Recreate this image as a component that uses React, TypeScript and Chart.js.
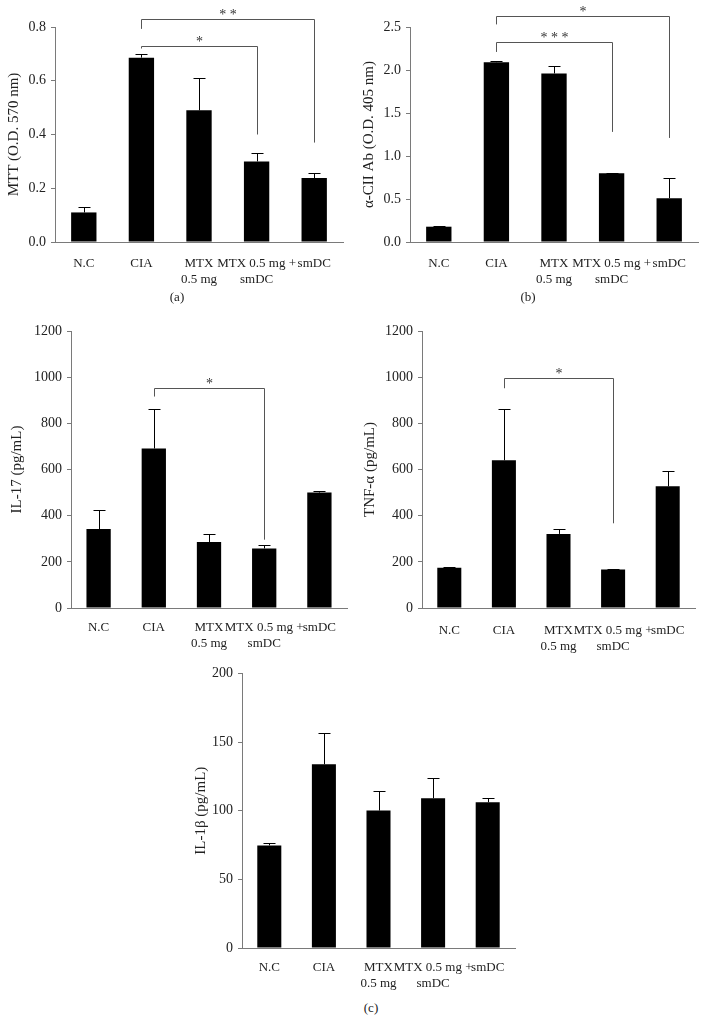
import React, { useEffect, useRef } from "react";
import { Chart, registerables } from "chart.js";
Chart.register(...registerables);

const categories: string[][] = [["N.C"], ["CIA"], ["MTX", "0.5 mg"], ["MTX 0.5 mg +", "smDC"], ["smDC"]];

const mttMeans = [0.11, 0.686, 0.49, 0.3, 0.238];
const mttErrors = [0.02, 0.015, 0.12, 0.03, 0.02];

const abMeans = [0.178, 2.09, 1.96, 0.8, 0.51];
const abErrors = [0.012, 0.01, 0.09, 0.008, 0.23];

const il17Means = [342, 691, 286, 258, 500];
const il17Errors = [83, 170, 36, 13, 5];

const tnfMeans = [174, 640, 321, 167, 527];
const tnfErrors = [2, 224, 20, 4, 65];

const il1bMeans = [74.7, 133.8, 100.1, 109.1, 106.2];
const il1bErrors = [1.5, 23, 14.3, 15, 2.9];

type Bracket = { from: number; to: number; y: number; leftEnd: number; rightEnd: number; label: string };

const mttBrackets: Bracket[] = [
  { from: 1, to: 3, y: 0.73, leftEnd: 0.72, rightEnd: 0.4, label: "*" },
  { from: 1, to: 4, y: 0.829, leftEnd: 0.793, rightEnd: 0.37, label: "**" },
];
const abBrackets: Bracket[] = [
  { from: 1, to: 3, y: 2.32, leftEnd: 2.21, rightEnd: 1.28, label: "***" },
  { from: 1, to: 4, y: 2.63, leftEnd: 2.53, rightEnd: 1.21, label: "*" },
];
const il17Brackets: Bracket[] = [{ from: 1, to: 3, y: 955, leftEnd: 916, rightEnd: 296, label: "*" }];
const tnfBrackets: Bracket[] = [{ from: 1, to: 3, y: 997, leftEnd: 952, rightEnd: 367, label: "*" }];

const FONT = "'Liberation Serif', 'Times New Roman', serif";
const AXIS_COLOR = "#7a7a7a";
const TEXT_COLOR = "#222";

function makeOverlay(errors: number[], brackets: Bracket[]) {
  return {
    id: "overlay",
    afterDatasetsDraw(chart: any) {
      const ctx = chart.ctx as CanvasRenderingContext2D;
      const meta = chart.getDatasetMeta(0);
      const ys = chart.scales.y;
      const data = chart.data.datasets[0].data as number[];
      ctx.save();
      ctx.strokeStyle = "#000";
      ctx.lineWidth = 1;
      meta.data.forEach((bar: any, i: number) => {
        const top = Math.round(ys.getPixelForValue(data[i] + errors[i])) + 0.5;
        const x = Math.round(bar.x) + 0.5;
        ctx.beginPath();
        ctx.moveTo(x, bar.y);
        ctx.lineTo(x, top);
        ctx.moveTo(x - 6, top);
        ctx.lineTo(x + 6, top);
        ctx.stroke();
      });
      ctx.strokeStyle = "#555";
      ctx.fillStyle = "#333";
      ctx.font = `14px ${FONT}`;
      ctx.textAlign = "center";
      ctx.textBaseline = "alphabetic";
      brackets.forEach((b) => {
        const xL = Math.round(meta.data[b.from].x) + 0.5;
        const xR = Math.round(meta.data[b.to].x) + 0.5;
        const yl = Math.round(ys.getPixelForValue(b.y)) + 0.5;
        ctx.beginPath();
        ctx.moveTo(xL, ys.getPixelForValue(b.leftEnd));
        ctx.lineTo(xL, yl);
        ctx.lineTo(xR, yl);
        ctx.lineTo(xR, ys.getPixelForValue(b.rightEnd));
        ctx.stroke();
        ctx.fillText(b.label.split("").join(" "), (xL + xR) / 2, yl - 0.5);
      });
      ctx.restore();
    },
  };
}

type PanelProps = {
  left: number;
  top: number;
  width: number;
  height: number;
  yAxisWidth: number;
  padRight: number;
  padTop: number;
  xAxisHeight: number;
  yMax: number;
  yStep: number;
  decimals: number;
  title: string;
  titlePad: number;
  xTickPad: number;
  means: number[];
  errors: number[];
  brackets: Bracket[];
};

function Panel(p: PanelProps) {
  const ref = useRef<HTMLCanvasElement>(null);
  useEffect(() => {
    if (!ref.current) return;
    const chart = new Chart(ref.current, {
      type: "bar",
      data: {
        labels: categories,
        datasets: [
          {
            data: p.means,
            backgroundColor: "#000",
            borderWidth: 0,
            categoryPercentage: 1,
            barPercentage: 0.44,
          },
        ],
      },
      options: {
        responsive: false,
        animation: false,
        layout: { padding: { top: p.padTop, right: p.padRight, left: 0, bottom: 0 } },
        plugins: { legend: { display: false }, tooltip: { enabled: false } },
        scales: {
          x: {
            grid: { display: false, drawTicks: false, tickLength: 0 },
            border: { display: true, color: AXIS_COLOR, width: 1 },
            ticks: {
              color: TEXT_COLOR,
              font: { family: FONT, size: 13, lineHeight: 1.25 },
              padding: p.xTickPad,
              maxRotation: 0,
              minRotation: 0,
              autoSkip: false,
            },
            afterFit: (s: any) => {
              s.height = p.xAxisHeight;
            },
          },
          y: {
            min: 0,
            max: p.yMax,
            grid: { display: true, drawOnChartArea: false, drawTicks: true, tickLength: 4, color: AXIS_COLOR },
            border: { display: true, color: AXIS_COLOR, width: 1 },
            ticks: {
              stepSize: p.yStep,
              color: TEXT_COLOR,
              font: { family: FONT, size: 14 },
              padding: 5,
              callback: (v: any) => Number(v).toFixed(p.decimals),
            },
            title: {
              display: true,
              text: p.title,
              color: TEXT_COLOR,
              font: { family: FONT, size: 15 },
              padding: { top: p.titlePad, bottom: 0 },
            },
            afterFit: (s: any) => {
              s.width = p.yAxisWidth;
            },
          },
        },
      },
      plugins: [makeOverlay(p.errors, p.brackets)],
    });
    return () => chart.destroy();
  }, []);
  return (
    <canvas
      ref={ref}
      width={p.width}
      height={p.height}
      style={{ position: "absolute", left: p.left, top: p.top, width: p.width, height: p.height }}
    />
  );
}

const captionStyle = (x: number, y: number): React.CSSProperties => ({
  position: "absolute",
  left: x - 20,
  top: y - 9,
  width: 40,
  textAlign: "center",
  font: `13px ${FONT}`,
  color: TEXT_COLOR,
  lineHeight: "18px",
});

export default function App() {
  return (
    <div style={{ position: "absolute", left: 0, top: 0, width: 710, height: 1023, background: "#fff", overflow: "hidden" }}>
      <Panel left={0} top={0} width={355} height={290} yAxisWidth={55} padRight={12} padTop={27} xAxisHeight={48}
        yMax={0.8} yStep={0.2} decimals={1} title="MTT (O.D. 570 nm)" titlePad={5} xTickPad={13}
        means={mttMeans} errors={mttErrors} brackets={mttBrackets} />
      <Panel left={355} top={0} width={355} height={290} yAxisWidth={55} padRight={12} padTop={27} xAxisHeight={48}
        yMax={2.5} yStep={0.5} decimals={1} title="α-CII Ab (O.D. 405 nm)" titlePad={5} xTickPad={13}
        means={abMeans} errors={abErrors} brackets={abBrackets} />
      <Panel left={0} top={310} width={355} height={350} yAxisWidth={71} padRight={8} padTop={21} xAxisHeight={52}
        yMax={1200} yStep={200} decimals={0} title="IL-17 (pg/mL)" titlePad={8} xTickPad={11}
        means={il17Means} errors={il17Errors} brackets={il17Brackets} />
      <Panel left={355} top={310} width={355} height={350} yAxisWidth={67} padRight={15} padTop={21} xAxisHeight={52}
        yMax={1200} yStep={200} decimals={0} title="TNF-α (pg/mL)" titlePad={6} xTickPad={14}
        means={tnfMeans} errors={tnfErrors} brackets={tnfBrackets} />
      <Panel left={180} top={660} width={350} height={330} yAxisWidth={62} padRight={15} padTop={12} xAxisHeight={42}
        yMax={200} yStep={50} decimals={0} title="IL-1β (pg/mL)" titlePad={12} xTickPad={11}
        means={il1bMeans} errors={il1bErrors} brackets={[]} />
      <div style={captionStyle(177, 297)}>(a)</div>
      <div style={captionStyle(528, 297)}>(b)</div>
      <div style={captionStyle(371, 1008)}>(c)</div>
    </div>
  );
}
